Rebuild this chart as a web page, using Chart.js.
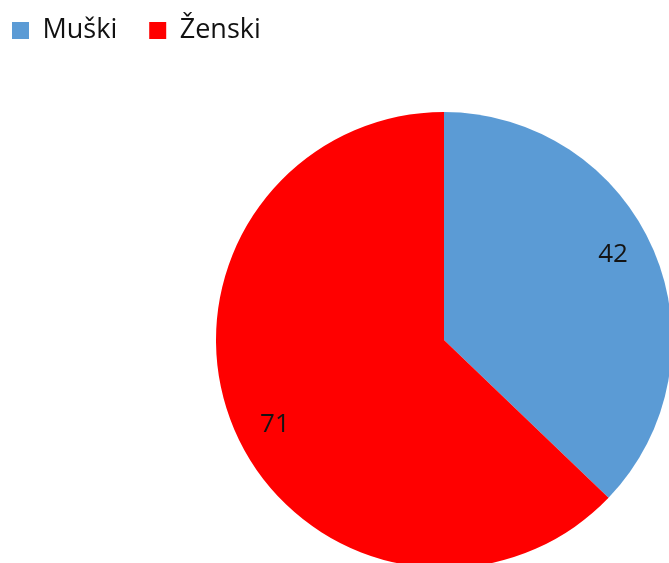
<!DOCTYPE html>
<html>
<head>
<meta charset="utf-8">
<script src="https://cdn.jsdelivr.net/npm/chart.js@4/dist/chart.umd.min.js"></script>
<style>
  html, body { margin: 0; padding: 0; background: #fff; overflow: hidden; width: 669px; height: 563px; }
  #myChart { position: absolute; left: -20px; top: -15px; }
</style>
</head>
<body>
<canvas id="myChart" width="928" height="600"></canvas>
<script>
// podaci
const labels = ['Muški', 'Ženski'];
const values = [42, 71];
const colors = ['#5B9BD5', '#FF0000'];

// legenda treba vise mjesta ispod
const legendGap = {
  id: 'legendGap',
  beforeInit(chart) {
    const fit = chart.legend.fit;
    chart.legend.fit = function () {
      fit.bind(chart.legend)();
      this.height += 58;
    };
  }
};

// brojevi unutar kriski
const sliceLabels = {
  id: 'sliceLabels',
  afterDatasetsDraw(chart) {
    const ctx = chart.ctx;
    const meta = chart.getDatasetMeta(0);
    ctx.save();
    ctx.font = '26px "Open Sans"';
    ctx.fillStyle = '#141414';
    ctx.textAlign = 'center';
    ctx.textBaseline = 'middle';
    meta.data.forEach((arc, i) => {
      const p = arc.getProps(['x', 'y', 'startAngle', 'endAngle', 'outerRadius'], true);
      const mid = (p.startAngle + p.endAngle) / 2 - 0.063;
      const r = p.outerRadius * 0.83;
      ctx.fillText(String(values[i]), p.x + Math.cos(mid) * r, p.y + Math.sin(mid) * r);
    });
    ctx.restore();
  }
};

const data = {
  labels: labels,
  datasets: [{
    data: values,
    backgroundColor: colors,
    borderWidth: 0
  }]
};

const config = {
  type: 'pie',
  data: data,
  options: {
    responsive: false,
    animation: false,
    layout: { padding: { top: 0, left: 0, right: 0, bottom: 17 } },
    plugins: {
      tooltip: { enabled: false },
      legend: {
        position: 'top',
        align: 'start',
        labels: {
          boxWidth: 17,
          boxHeight: 17,
          padding: 32,
          color: '#111',
          font: { family: 'Open Sans', size: 27 }
        }
      }
    }
  },
  plugins: [legendGap, sliceLabels]
};

const myChart = new Chart(document.getElementById('myChart'), config);
</script>
</body>
</html>
